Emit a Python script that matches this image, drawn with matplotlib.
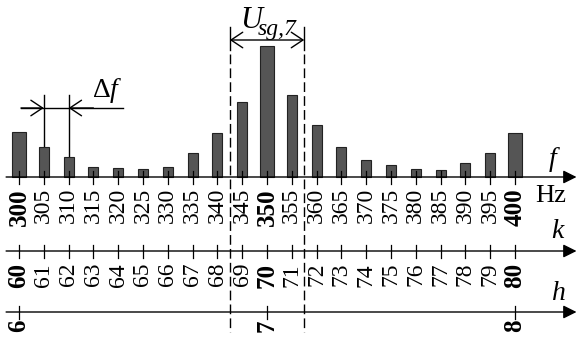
import matplotlib
matplotlib.use("Agg")
import matplotlib.pyplot as plt

# 频谱数据 (f in Hz, 幅值为任意单位)
freqs = [300, 305, 310, 315, 320, 325, 330, 335, 340, 345, 350,
         355, 360, 365, 370, 375, 380, 385, 390, 395, 400]
amps = [45, 30, 20, 10, 9, 8, 10, 24, 44, 75, 131,
        82, 52, 30, 17, 12, 8, 7, 14, 24, 44]
k_vals = list(range(60, 81))
h_vals = [6, 7, 8]
bold_f = [300, 350, 400]
bold_k = [60, 70, 80]

plt.rcParams['font.family'] = ['Liberation Serif', 'DejaVu Serif']
plt.rcParams['mathtext.fontset'] = 'custom'
plt.rcParams['mathtext.rm'] = 'Liberation Serif'
plt.rcParams['mathtext.it'] = 'Liberation Serif:italic'

fig = plt.figure(figsize=(5.78, 3.40), dpi=100)
ax = fig.add_axes([0, 0, 1, 1])
ax.set_xlim(296.17, 412.70)
ax.set_ylim(-163, 177)
ax.axis('off')

y_f, y_k, y_h = 0, -74, -135
x0, x1 = 297.4, 412.4
tick = 6.5

# 柱状图
widths = [2.8 if f in bold_f else 2.0 for f in freqs]
ax.bar(freqs, amps, width=widths, color='#555555', edgecolor='#222222',
       linewidth=0.8, zorder=3)

# 三条坐标轴
for y0 in (y_f, y_k, y_h):
    ax.annotate('', xy=(x1, y0), xytext=(x0, y0),
                arrowprops=dict(arrowstyle='-|>', mutation_scale=20, lw=1.0,
                                color='k', shrinkA=0, shrinkB=0), zorder=4)

# f 轴刻度与标签
for f in freqs:
    ax.plot([f, f], [y_f - tick, y_f + tick], color='k', lw=0.9, zorder=4)
    b = f in bold_f
    ax.text(f, y_f - 11, str(f), rotation=90, ha='center', va='top',
            fontsize=18 if b else 17, fontweight='bold' if b else 'normal')

# k 轴 (f = 5k)
for k in k_vals:
    ax.plot([5 * k, 5 * k], [y_k - tick, y_k + tick], color='k', lw=0.9)
    b = k in bold_k
    ax.text(5 * k, y_k - 12, str(k), rotation=90, ha='center', va='top',
            fontsize=18 if b else 17, fontweight='bold' if b else 'normal')

# h 轴 (f = 50h)
for h in h_vals:
    ax.plot([50 * h, 50 * h], [y_h - tick, y_h + tick], color='k', lw=0.9)
    ax.text(50 * h, y_h - 7, str(h), rotation=90, ha='center', va='top',
            fontsize=18, fontweight='bold')

# 轴名
ax.text(407.9, 17, '$f$', fontsize=20, ha='center', va='center')
ax.text(407.2, -19, 'Hz', fontsize=19, ha='center', va='center')
ax.text(408.7, -55, '$k$', fontsize=20, ha='center', va='center')
ax.text(408.7, -116, '$h$', fontsize=20, ha='center', va='center')

# U_sg,7 区间
for xd in (342.5, 357.5):
    ax.plot([xd, xd], [150, 127], color='k', lw=1.0)
    ax.plot([xd, xd], [123, -155], color='k', lw=1.0, linestyle=(0, (7, 3)))
ax.annotate('', xy=(342.5, 137), xytext=(357.5, 137),
            arrowprops=dict(arrowstyle='<->,head_length=0.6,head_width=0.4',
                            mutation_scale=14, lw=1.0, color='k',
                            shrinkA=0, shrinkB=0))
ax.text(344.5, 149, 'U', fontsize=22, style='italic', ha='left', va='baseline')
ax.text(348.2, 142, 'sg,7', fontsize=17, style='italic', ha='left', va='baseline')

# Δf 标注
ax.plot([305, 305], [82, 0], color='k', lw=1.0, zorder=2)
ax.plot([310, 310], [82, 0], color='k', lw=1.0, zorder=2)
ax.plot([300.4, 321.0], [69, 69], color='k', lw=1.0)
ax.annotate('', xy=(305, 69), xytext=(300.4, 69),
            arrowprops=dict(arrowstyle='->,head_length=0.6,head_width=0.4',
                            mutation_scale=14, lw=1.0, color='k',
                            shrinkA=0, shrinkB=0))
ax.annotate('', xy=(310, 69), xytext=(315.0, 69),
            arrowprops=dict(arrowstyle='->,head_length=0.6,head_width=0.4',
                            mutation_scale=14, lw=1.0, color='k',
                            shrinkA=0, shrinkB=0))
ax.text(314.7, 80, r'$\Delta f$', fontsize=20, ha='left', va='baseline')

fig.savefig('out.png', dpi=100)
